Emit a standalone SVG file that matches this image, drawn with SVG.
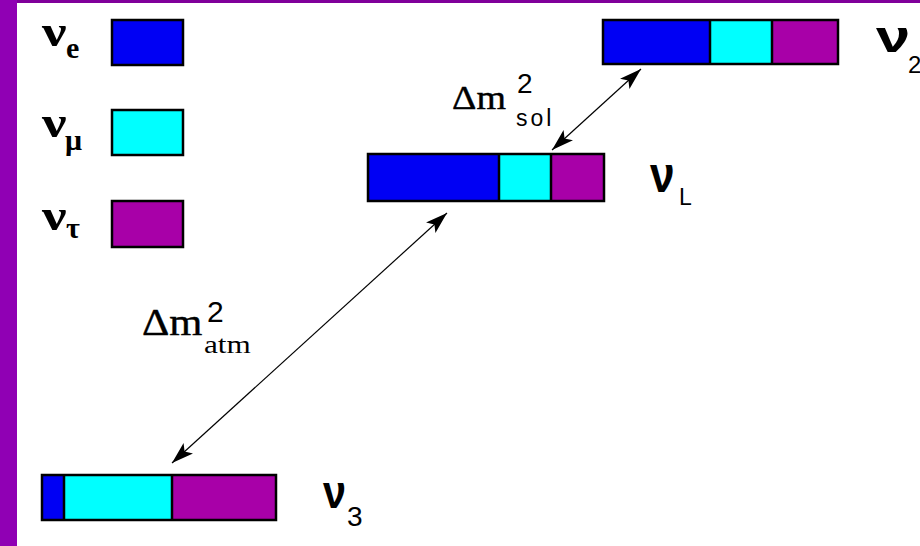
<svg xmlns="http://www.w3.org/2000/svg" width="920" height="546" viewBox="0 0 920 546">
<style>
.bar{stroke:#000;stroke-width:2.5}
.e{fill:#0000f4}
.m{fill:#00ffff}
.t{fill:#a800a8}
.nus{font-family:"Liberation Serif",serif;font-weight:bold;fill:#000}
.nu{font-family:"Liberation Sans",sans-serif;font-weight:bold;fill:#000}
.sub{font-family:"Liberation Sans",sans-serif;fill:#000}
.lab{font-family:"Liberation Serif",serif;fill:#000;stroke:#000;stroke-width:0.4}
.conn{stroke:#000;stroke-width:1.2;fill:none;marker-start:url(#ah);marker-end:url(#ah)}
</style>
<defs>
<marker id="ah" viewBox="0 0 22 14" refX="22" refY="7" markerWidth="22" markerHeight="14" markerUnits="userSpaceOnUse" orient="auto-start-reverse">
<path d="M0,0 L22,7 L0,14 L5,7 Z" fill="#000"/>
</marker>
</defs>
<rect width="920" height="546" fill="#fff"/>
<rect x="0" y="0" width="920" height="3" fill="#80009a"/>
<rect x="0" y="0" width="17" height="546" fill="#9000b4"/>

<g id="legend-e">
<text class="nus" transform="translate(42,46) scale(1.25,1)" font-size="44">ν</text>
<text class="nus" x="66" y="58" font-size="30">e</text>
<rect class="bar e" x="112" y="20" width="71" height="45"/>
</g>
<g id="legend-mu">
<text class="nus" transform="translate(42,137) scale(1.25,1)" font-size="44">ν</text>
<text class="nus" x="65" y="150" font-size="30">μ</text>
<rect class="bar m" x="112" y="110" width="71" height="45"/>
</g>
<g id="legend-tau">
<text class="nus" transform="translate(42,230) scale(1.25,1)" font-size="44">ν</text>
<text class="nus" x="66" y="238" font-size="30">τ</text>
<rect class="bar t" x="112" y="201" width="71" height="46"/>
</g>

<g id="nu2">
<rect class="e" x="603" y="20" width="107" height="44"/>
<rect class="m" x="710" y="20" width="62" height="44"/>
<rect class="t" x="772" y="20" width="66" height="44"/>
<rect class="bar" fill="none" x="603" y="20" width="235" height="44"/>
<line class="bar" x1="710" y1="20" x2="710" y2="64"/>
<line class="bar" x1="772" y1="20" x2="772" y2="64"/>
<text class="nu" transform="translate(876,52) scale(1.4,1)" font-size="44">ν</text>
<text class="sub" x="908" y="73" font-size="24">2</text>
</g>

<g id="nuL">
<rect class="e" x="368" y="154" width="131" height="47"/>
<rect class="m" x="499" y="154" width="52" height="47"/>
<rect class="t" x="551" y="154" width="53" height="47"/>
<rect class="bar" fill="none" x="368" y="154" width="236" height="47"/>
<line class="bar" x1="499" y1="154" x2="499" y2="201"/>
<line class="bar" x1="551" y1="154" x2="551" y2="201"/>
<text class="nu" transform="translate(650,192) scale(0.85,1)" font-size="52">ν</text>
<text class="sub" x="679" y="205" font-size="23">L</text>
</g>

<g id="nu3">
<rect class="e" x="42" y="475" width="22" height="45"/>
<rect class="m" x="64" y="475" width="108" height="45"/>
<rect class="t" x="172" y="475" width="104" height="45"/>
<rect class="bar" fill="none" x="42" y="475" width="234" height="45"/>
<line class="bar" x1="64" y1="475" x2="64" y2="520"/>
<line class="bar" x1="172" y1="475" x2="172" y2="520"/>
<text class="nu" transform="translate(323,508) scale(0.9,1)" font-size="46">ν</text>
<text class="sub" x="347" y="526" font-size="28">3</text>
</g>

<g id="connectors">
<line class="conn" x1="552" y1="150" x2="641" y2="69"/>
<line class="conn" x1="172" y1="463" x2="447" y2="213"/>
</g>

<g id="label-sol">
<text class="lab" transform="translate(452,109) scale(1.15,1)" font-size="33">Δm</text>
<text class="sub" x="517" y="93" font-size="28">2</text>
<text class="sub" x="516" y="126" font-size="23" letter-spacing="3">sol</text>
</g>
<g id="label-atm">
<text class="lab" transform="translate(142,335) scale(1.15,1)" font-size="37">Δm</text>
<text class="sub" x="207" y="322" font-size="30">2</text>
<text transform="translate(204,353) scale(1.2,1)" font-family="Liberation Serif, serif" font-size="26" fill="#000">atm</text>
</g>
</svg>
